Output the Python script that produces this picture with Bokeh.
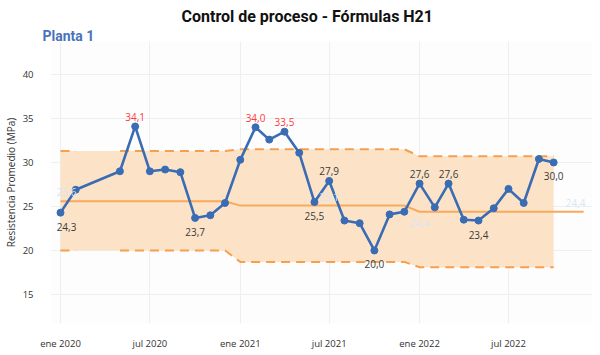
from datetime import datetime, timedelta
from bokeh.plotting import figure
from bokeh.models import Range1d, FixedTicker, Title, ColumnDataSource
from bokeh.core.properties import value
from bokeh.embed import file_html
from bokeh.resources import INLINE

# ---------------- data ----------------
months = [datetime(2020 + i // 12, i % 12 + 1, 1) for i in range(36)]
resistencia = [24.3, 26.9, None, None, 29.0, 34.1, 29.0, 29.2, 28.9, 23.7, 24.0, 25.4,
               30.3, 34.0, 32.6, 33.5, 31.1, 25.5, 27.9, 23.4, 23.1, 20.0, 24.1, 24.4,
               27.6, 24.9, 27.6, 23.5, 23.4, 24.8, 27.0, 25.4, 30.4, 30.0, None, None]
centro_anual = [25.6, 25.1, 24.4]
lcs_anual = [31.3, 31.5, 30.7]
lci_anual = [20.0, 18.7, 18.1]

# data labels on the series
etiquetas_idx = [0, 5, 9, 13, 15, 17, 18, 21, 24, 26, 28, 33]
etiquetas_pos = ["below", "above", "below", "above", "above", "below", "above", "below",
                 "above", "above", "below", "below"]
# faint labels on the centre line
centro_lbl_idx = [0, 18, 24, 35]
centro_lbl_pos = ["above", "above", "below", "above"]

tick_dates = [datetime(2020, 1, 1), datetime(2020, 7, 1), datetime(2021, 1, 1),
              datetime(2021, 7, 1), datetime(2022, 1, 1), datetime(2022, 7, 1)]
tick_labels = ["ene 2020", "jul 2020", "ene 2021", "jul 2021", "ene 2022", "jul 2022"]
y_ticks = [15, 20, 25, 30, 35, 40]

# ---------------- derived ----------------
def ms(d):
    return (d - datetime(1970, 1, 1)).total_seconds() * 1000.0

centro = [centro_anual[m.year - 2020] for m in months]
lcs = [lcs_anual[m.year - 2020] if resistencia[i] is not None else float("nan")
       for i, m in enumerate(months)]
lci = [lci_anual[m.year - 2020] if resistencia[i] is not None else float("nan")
       for i, m in enumerate(months)]

valid = [i for i, v in enumerate(resistencia) if v is not None]
xv = [months[i] for i in valid]
yv = [resistencia[i] for i in valid]

fmt = lambda v: f"{v:.1f}".replace(".", ",")

BLUE = "#3a6cb4"
ORANGE = "#f6a04d"
FONT = "Open Sans"

FRAME_W, FRAME_H = 542, 282
x_start = datetime(2020, 1, 1) - timedelta(days=20.36)
x_end = x_start + timedelta(days=FRAME_W / 0.4912)

p = figure(frame_width=FRAME_W, frame_height=FRAME_H, output_backend="svg",
           toolbar_location=None, x_axis_type="datetime",
           x_range=Range1d(x_start, x_end), y_range=Range1d(11.70, 43.75),
           min_border_left=42, min_border_right=0, min_border_top=41, min_border_bottom=20)

p.background_fill_color = "#fdfdfe"
p.border_fill_color = "white"
p.outline_line_color = None

# band between limits
p.varea(x=xv, y1=[lci_anual[d.year - 2020] for d in xv],
        y2=[lcs_anual[d.year - 2020] for d in xv], fill_color="#fce3c8", fill_alpha=1.0)

# limit lines (broken where no data)
p.line(months, lcs, line_color=ORANGE, line_width=2, line_dash="9 6")
p.line(months, lci, line_color=ORANGE, line_width=2, line_dash="9 6")
# centre line
p.line(months, centro, line_color="#f7a95c", line_width=2)

# series
p.line(xv, yv, line_color=BLUE, line_width=2.6)
p.scatter(xv, yv, size=7, fill_color=BLUE, line_color=BLUE)

# data labels
lx, ly, lt, lc, lyo, lxo = [], [], [], [], [], []
for i, ps in zip(etiquetas_idx, etiquetas_pos):
    v = resistencia[i]
    lx.append(months[i]); ly.append(v); lt.append(fmt(v))
    lc.append("#ff3b3b" if v > lcs_anual[months[i].year - 2020] else "#3a3a3a")
    lyo.append(-9.5 if ps == "above" else 14)
    lxo.append(6 if i == 0 else 0)
p.text(x="x", y="y", text="t", text_color="c", y_offset="yo", x_offset="xo",
       source=ColumnDataSource(dict(x=lx, y=ly, t=lt, c=lc, yo=lyo, xo=lxo)),
       text_font=value(FONT), text_font_size="10px", text_align="center",
       text_baseline="middle")

cx, cy, ct, cyo, cxo = [], [], [], [], []
for i, ps in zip(centro_lbl_idx, centro_lbl_pos):
    cx.append(months[i]); cy.append(centro[i]); ct.append(fmt(centro[i]))
    cyo.append(-9 if ps == "above" else 11)
    cxo.append(6 if i == 0 else (-8 if i == 35 else 0))
p.text(x="x", y="y", text="t", y_offset="yo", x_offset="xo",
       source=ColumnDataSource(dict(x=cx, y=cy, t=ct, yo=cyo, xo=cxo)),
       text_color="#d9e6f1", text_font=value(FONT), text_font_size="10px",
       text_align="center", text_baseline="middle")

# axes
p.xaxis.ticker = FixedTicker(ticks=[ms(d) for d in tick_dates])
p.xaxis.major_label_overrides = {ms(d): t for d, t in zip(tick_dates, tick_labels)}
p.yaxis.ticker = FixedTicker(ticks=y_ticks)
for ax in (p.xaxis, p.yaxis):
    ax.axis_line_color = None
    ax.major_tick_line_color = None
    ax.minor_tick_line_color = None
    ax.major_label_text_font = FONT
    ax.major_label_text_font_size = "9.5px"
    ax.major_label_text_color = "#333333"
p.xaxis.major_label_standoff = 7
p.yaxis.major_label_standoff = 11
p.yaxis.axis_label = "Resistencia Promedio (MPa)"
p.yaxis.axis_label_text_font = FONT
p.yaxis.axis_label_text_font_size = "10px"
p.yaxis.axis_label_text_font_style = "normal"
p.yaxis.axis_label_text_color = "#333333"
p.yaxis.axis_label_standoff = 2

p.xgrid.grid_line_color = "#efefef"
p.ygrid.grid_line_color = "#efefef"
p.xgrid.ticker = p.xaxis.ticker
p.ygrid.ticker = p.yaxis.ticker

# titles
p.title.visible = False
sub = Title(text="Planta 1", align="left", text_font="Roboto", text_font_size="14px",
            text_color="#4a72b8", text_font_style="bold", standoff=-4, offset=-8)
main = Title(text="Control de proceso - Fórmulas H21", align="left", text_font="Roboto",
             text_font_size="16px", text_color="#111111", text_font_style="bold",
             vertical_align="top", standoff=0, offset=131)
p.add_layout(sub, "above")
p.add_layout(main, "above")

open("out.html", "w").write(file_html(p, INLINE))
